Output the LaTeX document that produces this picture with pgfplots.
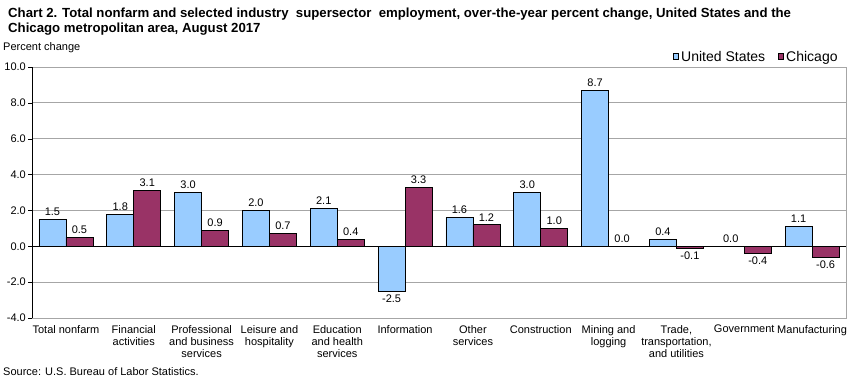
\documentclass[border=0pt]{standalone}
\usepackage{pgfplots}
\pgfplotsset{compat=1.18}
\usepackage{fontspec}
\setmainfont{Liberation Sans}
\definecolor{usblue}{HTML}{99CCFF}
\definecolor{chimaroon}{HTML}{993366}
\definecolor{gridgray}{HTML}{A6A6A6}
\begin{document}
\begin{tikzpicture}[x=1pt,y=1pt]
\useasboundingbox (0,0) rectangle (856,381);
\node[anchor=north west, font=\fontsize{13.2}{15}\selectfont\bfseries, align=left, inner sep=0pt] at (8,{381-8})
  {Chart 2. Total nonfarm and selected industry\ \ supersector\ \ employment, over-the-year percent change, United States and the\\Chicago metropolitan area, August 2017};
\node[anchor=base west, font=\fontsize{11}{12}\selectfont, inner sep=0pt] at (3,{381-51}) {Percent change};
\node[anchor=base west, font=\fontsize{11}{12}\selectfont, inner sep=0pt] at (3,{381-375}) {Source: U.S. Bureau of Labor Statistics.};
\begin{axis}[
  at={(32pt,63pt)}, anchor=south west,
  scale only axis, width=814pt, height=251pt,
  ybar=0pt, bar width=27pt,
  xmin=-0.5, xmax=11.5, ymin=-4, ymax=10,
  ytick={-4,-2,...,10},
  xtick={0,...,11},
  xticklabels={{Total nonfarm},{Financial\\activities},{Professional\\and business\\services},{Leisure and\\hospitality},{Education\\and health\\services},{Information},{Other\\services},{Construction},{Mining and\\logging},{Trade,\\transportation,\\and utilities},{Government},{Manufacturing}},
  xticklabel style={align=center, font=\fontsize{11}{12}\selectfont, anchor=north, inner sep=2pt, yshift=-1pt},
  yticklabel style={font=\fontsize{11}{12}\selectfont, inner sep=2pt},
  x tick style={draw=none},
  ytick pos=left, tick align=outside, major tick length=4pt,
  y tick style={black},
  ymajorgrids, grid style={gridgray, line width=0.8pt},
  axis line style={gridgray, line width=0.8pt},
  /pgf/number format/fixed, /pgf/number format/fixed zerofill, /pgf/number format/precision=1, /pgf/number format/assume math mode=true,
  nodes near coords={\pgfmathprintnumber[fixed, fixed zerofill, precision=1, assume math mode=true]{\pgfplotspointmeta}},
  nodes near coords style={font=\fontsize{11}{12}\selectfont, black},
  legend columns=2,
  legend style={at={(axis description cs:0.993,1)}, anchor=south east, draw=none, fill=none, font=\fontsize{14}{15}\selectfont, inner sep=0pt, yshift=3pt,
    nodes={inner xsep=2.5pt, inner ysep=1pt},
    /tikz/every even column/.append style={column sep=10pt}},
  legend image code/.code={\draw[#1, draw=black, line width=0.5pt] (0pt,-2pt) rectangle (5.5pt,3.5pt);},
  clip=false,
]
\addplot[fill=usblue, draw=black, line width=0.75pt] coordinates {
(0,1.5) (1,1.8) (2,3.0) (3,2.0) (4,2.1) (5,-2.5) (6,1.6) (7,3.0) (8,8.7) (9,0.4) (10,0.0) (11,1.1)};
\addlegendentry{United States}
\addplot[fill=chimaroon, draw=black, line width=0.75pt] coordinates {
(0,0.5) (1,3.1) (2,0.9) (3,0.7) (4,0.4) (5,3.3) (6,1.2) (7,1.0) (8,0.0) (9,-0.1) (10,-0.4) (11,-0.6)};
\addlegendentry{Chicago}
\draw[black, line width=0.9pt] (axis cs:-0.5,0) -- (axis cs:11.5,0);
\draw[black, line width=0.9pt] (rel axis cs:0,0) -- (rel axis cs:0,1);
\end{axis}
\end{tikzpicture}
\end{document}
